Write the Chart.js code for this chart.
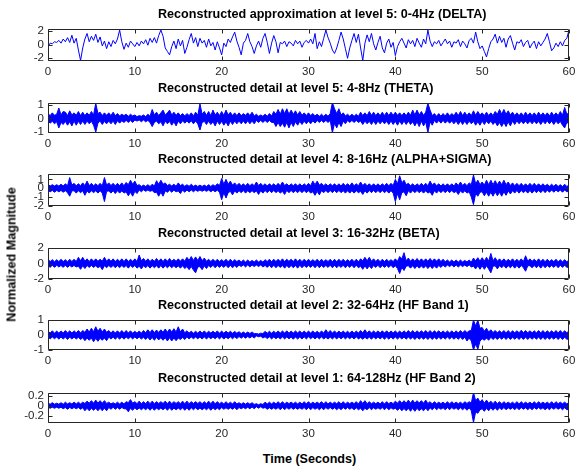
<!DOCTYPE html>
<html>
<head>
<meta charset="utf-8">
<script src="https://cdn.jsdelivr.net/npm/chart.js@4.4.1/dist/chart.umd.min.js"></script>
<style>
  body { margin: 0; background: #fff; width: 576px; height: 466px; position: relative; overflow: hidden;
         font-family: "Liberation Sans", Arial, sans-serif; }
  .panel { position: absolute; left: 0; width: 576px; }
  .lab { position: absolute; font-weight: bold; font-size: 12.6px; line-height: 15px; color: #000; white-space: nowrap; }
</style>
</head>
<body>
<script>
// Wavelet reconstruction of a 60 s EEG record, one panel per band.
// Everything is sampled every 0.25 s (241 values over 0..60 s).
// The delta panel is a plain trace; the detail bands are far denser than a pixel,
// so they are kept as the upper / lower excursion of the signal in each slot.

const titles = [
  "Reconstructed approximation at level 5: 0-4Hz (DELTA)",
  "Reconstructed detail at level 5: 4-8Hz (THETA)",
  "Reconstructed detail at level 4: 8-16Hz (ALPHA+SIGMA)",
  "Reconstructed detail at level 3: 16-32Hz (BETA)",
  "Reconstructed detail at level 2: 32-64Hz (HF Band 1)",
  "Reconstructed detail at level 1: 64-128Hz (HF Band 2)"
];

const xTicks = [0, 10, 20, 30, 40, 50, 60];
const yTicks = [[-2, 0, 2], [-1, 0, 1], [-2, -1, 0, 1], [-2, 0, 2], [-1, 0, 1], [-0.2, 0, 0.2]];
const yLimits = [[-2.39, 2.25], [-1.07, 1.12], [-2, 1.6], [-2, 2], [-1, 1], [-0.34, 0.25]];

const delta = [
  -.3,.2,.1,.4, .3,.6,.2,.8, .4,1.0,.3,1.35, .2,.9,-.8,-2.3, -.5,.8,1.6,.4,
  1.2,.6,1.5,.3, 1.1,-.2,.5,-.6, .4,-.3,.6,.1, .8,2.1,.4,-.7, .2,-.4,.5,.1,
  -.3,.3,-.2,.5, .1,.7,-.1,.9, .3,1.0,.2,1.3, 2.1,1.2,-.5,-1.0, -1.5,-.3,.5,-.6,
  .8,-.2,.6,-1.3, -.4,.7,1.6,.2, 1.0,-.3,.9,.2, .6,-.4,.8,-.2, .3,-.8,.4,-.5,
  -1.5,.2,-.3,.8, .3,1.1,1.8,.5, -.4,-1.5,.2,.6, 1.6,.4,-.3,-1.3, -.2,.5,-.4,.9,
  1.6,.3,-1.3,.2, 1.3,.4,-1.2,.3, .1,.5,-.3,.4, .2,-.2,.6,.1, .5,-.4,.3,.6,
  .2,.8,.1,1.6, -.6,.4,-.3,.9, 2.1,1.0,.2,-.8, -1.3,-.5,.6,1.8, .8,-.6,-2.0,-.5,
  .6,1.6,.3,1.5, -.5,-2.3,.2,1.4, .4,1.6,.1,-.8, .3,1.2,-.5,-1.2, .2,.8,-.4,.3,
  -1.6,-.3,.4,.9, .2,-.5,.7,.1, .6,-.3,.9,.2, -.4,.8,.1,2.1, .5,-.3,.4,.1,
  .6,-.2,.3,.8, .1,.5,-.4,.4, .2,.7,-.3,.5, .1,-.5,.6,.9, .2,1.8,.4,-.6,
  -.2,-1.0,-1.8,-.6, .4,.8,1.5,.2, 1.2,.3,.9,-.4, .8,1.3,.2,-.8, .4,.2,.7,-.3,
  .3,.6,-.5,.1, .5,-.6,.4,-.2, .3,.8,1.6,.4, -.9,-.5,.2,-.3, .4,-.2,.6,.9,
  2.1
];

const thetaHi = [
  .35,.2,.4,.22, .3,.75,.25,.5, .45,.2,.55,.25, .4,.22,.5,.2, .45,.2,.4,.22,
  .5,.25,1.1,.35, .45,.2,.4,.22, .4,.2,.45,.2, .35,.18,.3,.2, .3,.15,.3,.18,
  .25,.12,.2,.15, .25,.12,.3,.15, .65,.25,.45,.2, .4,.6,.25,.4, .6,.25,.45,.22,
  .4,.2,.35,.18, .35,.2,.4,.18, .45,.22,1.05,.3, .5,.22,.5,.2, .6,.25,.45,.2,
  .5,.22,.6,.25, .45,.2,.4,.2, .4,.2,.35,.22, .4,.2,.45,.18, .3,.15,.25,.15,
  .3,.15,.35,.18, .5,.3,.65,.3, .7,.35,.7,.3, .6,.3,.55,.25, .5,.22,.4,.2,
  .4,.2,.35,.18, .3,.15,.3,.15, .3,.15,.35,1.15, .7,.35,.7,.25, .4,.18,.3,.15,
  .3,.15,.3,.15, .45,.2,.4,.2, .5,.22,.45,.2, .4,.2,.45,.2, .45,.2,.45,.22,
  .45,.22,.4,.2, .4,.2,.45,.22, .6,.25,.6,.25, .5,.22,.45,1.1, .6,.2,.35,.15,
  .35,.15,.35,.18, .4,.18,.35,.2, .45,.2,.5,.2, .45,.2,.4,.2, .55,.22,.5,.25,
  .4,.2,.45,.2, .4,.2,.5,.3, .65,.3,.65,.3, .55,.25,.45,.2, .4,.2,.4,.18,
  .45,.2,.4,.2, .4,.18,.45,.2, .4,.2,.4,.18, .45,.2,.4,.2, .5,.22,.8,.3,
  .4
];
const thetaLo = [
  -.2,-.35,-.22,-.4, -.25,-.7,-.3,-.45, -.22,-.5,-.25,-.55, -.2,-.5,-.22,-.45, -.2,-.45,-.2,-.4,
  -.22,-.5,-1.0,-.35, -.2,-.45,-.22,-.4, -.2,-.4,-.2,-.45, -.18,-.35,-.18,-.3, -.15,-.3,-.15,-.3,
  -.12,-.2,-.12,-.25, -.12,-.25,-.15,-.3, -.6,-.3,-.2,-.4, -.25,-.55,-.2,-.4, -.22,-.5,-.25,-.55,
  -.2,-.4,-.18,-.35, -.2,-.35,-.18,-.4, -.2,-.4,-.85,-.3, -.22,-.45,-.2,-.45, -.25,-.55,-.2,-.45,
  -.22,-.5,-.25,-.55, -.2,-.45,-.2,-.4, -.2,-.4,-.2,-.4, -.18,-.4,-.2,-.4, -.15,-.3,-.15,-.3,
  -.15,-.3,-.15,-.3, -.3,-.6,-.3,-.6, -.35,-.65,-.3,-.7, -.3,-.6,-.25,-.5, -.22,-.45,-.2,-.4,
  -.2,-.4,-.18,-.35, -.15,-.3,-.15,-.3, -.15,-.3,-.15,-1.05, -.35,-.7,-.3,-.6, -.2,-.4,-.15,-.3,
  -.15,-.3,-.15,-.3, -.2,-.45,-.2,-.4, -.22,-.45,-.2,-.45, -.2,-.4,-.2,-.4, -.22,-.45,-.2,-.45,
  -.22,-.5,-.2,-.45, -.2,-.45,-.2,-.45, -.25,-.55,-.25,-.6, -.2,-.55,-.25,-1.05, -.25,-.5,-.15,-.35,
  -.15,-.35,-.15,-.35, -.18,-.35,-.2,-.4, -.2,-.45,-.2,-.45, -.2,-.45,-.2,-.4, -.22,-.5,-.25,-.5,
  -.2,-.45,-.2,-.4, -.2,-.45,-.25,-.55, -.3,-.6,-.3,-.6, -.25,-.55,-.2,-.45, -.18,-.4,-.2,-.4,
  -.2,-.4,-.2,-.4, -.2,-.4,-.22,-.45, -.2,-.4,-.18,-.4, -.2,-.45,-.2,-.4, -.22,-.5,-.7,-.3,
  -.4
];

const alphaHi = [
  .45,.25,.4,.25, .4,.25,.45,.25, .5,.28,1.2,.35, .55,.28,.5,.28, .6,.3,.8,.3,
  .55,.28,.5,.28, .55,.28,1.2,.35, .6,.3,.55,.28, .55,.3,.6,.28, .65,.4,.9,.45,
  .8,.3,.4,.2, .35,.2,.4,.2, .45,.25,.85,.45, .9,.45,.6,.3, .45,.25,.45,.22,
  .6,.3,.45,.22, .4,.22,.45,.22, .35,.2,.35,.2, .35,.2,.4,.2, .4,.22,.5,.3,
  1.1,.45,1.0,.45, .8,.35,.6,.3, .55,.28,.5,.25, .55,.28,.5,.28, .7,.3,.55,.28,
  .5,.25,.5,.28, .5,.25,.55,.28, .7,.3,.5,.25, .5,.28,.5,.25, .5,.25,.5,.28,
  .55,.28,.8,.4, .8,.35,.55,.28, .5,.25,.5,.28, .5,.25,.5,.25, .55,.28,.5,.28,
  .6,.28,.5,.28, .7,.3,.55,.28, .5,.25,.5,.25, .5,.25,.5,.28, .55,.28,.55,.3,
  1.0,.5,1.4,.6, .9,.4,.55,.28, .5,.25,.5,.28, .55,.28,.55,.28, .8,.35,.6,.28,
  .5,.25,.5,.25, .5,.25,.5,.25, .6,.3,.7,.3, .55,.28,.6,.4, 1.5,.5,.9,.4,
  .7,.35,.9,.4, .9,.4,.85,.4, .8,.4,.9,.4, .7,.3,.6,.28, .55,.28,.55,.25,
  .5,.25,.55,.28, .55,.25,.5,.25, .5,.25,.45,.22, .45,.22,.45,.2, .4,.2,.45,.2,
  .35
];
const alphaLo = [
  -.25,-.4,-.25,-.45, -.25,-.4,-.25,-.45, -.28,-.5,-.9,-.3, -.28,-.55,-.28,-.5, -.3,-.8,-.3,-.55,
  -.28,-.5,-.28,-.55, -.28,-.55,-1.5,-.35, -.3,-.55,-.28,-.6, -.28,-.55,-.3,-.55, -.4,-.85,-.45,-.9,
  -.35,-.6,-.2,-.4, -.18,-.35,-.2,-.35, -.25,-.5,-.45,-.9, -.45,-.9,-.3,-.45, -.22,-.45,-.22,-.4,
  -.3,-.6,-.22,-.45, -.2,-.4,-.2,-.4, -.2,-.35,-.2,-.35, -.2,-.35,-.2,-.4, -.22,-.4,-.22,-.45,
  -1.3,-.5,-1.1,-.5, -.35,-.75,-.3,-.55, -.28,-.5,-.25,-.55, -.28,-.5,-.28,-.5, -.3,-.7,-.28,-.55,
  -.25,-.5,-.25,-.5, -.25,-.5,-.28,-.55, -.35,-.7,-.25,-.5, -.25,-.5,-.28,-.5, -.25,-.5,-.25,-.5,
  -.28,-.55,-.4,-.8, -.35,-.75,-.28,-.5, -.25,-.5,-.25,-.5, -.25,-.5,-.25,-.5, -.28,-.55,-.28,-.55,
  -.28,-.55,-.28,-.5, -.35,-.7,-.28,-.55, -.25,-.5,-.25,-.5, -.25,-.5,-.25,-.5, -.28,-.55,-.28,-.55,
  -1.5,-.6,-1.3,-.5, -.4,-.85,-.28,-.55, -.25,-.5,-.25,-.5, -.28,-.55,-.28,-.55, -.4,-.8,-.28,-.55,
  -.25,-.5,-.25,-.5, -.25,-.5,-.25,-.5, -.35,-.7,-.28,-.55, -.28,-.55,-.4,-1.0, -1.85,-.6,-.9,-.45,
  -.4,-.85,-.45,-.9, -.45,-.9,-.4,-.85, -.45,-.9,-.4,-.8, -.3,-.65,-.28,-.55, -.25,-.55,-.25,-.5,
  -.28,-.55,-.25,-.55, -.25,-.5,-.25,-.5, -.22,-.5,-.22,-.45, -.2,-.45,-.2,-.4, -.2,-.45,-.2,-.4,
  -.35
];

const betaHi = [
  .55,.25,.5,.22, .5,.25,.55,.25, .5,.22,.55,.25, .55,.25,.8,.35, .8,.3,.6,.25,
  .6,.28,.6,.28, .55,.3,.8,.3, .6,.28,.6,.25, .55,.28,.6,.25, .6,.25,.55,.28,
  .6,.25,1.1,.35, .65,.28,.6,.25, .55,.28,.65,.28, .6,.25,.6,.28, .65,.28,.55,.28,
  .6,.3,.6,.3, .8,.4,.9,.4, .85,.4,.9,.35, .7,.3,.55,.25, .55,.25,.55,.25,
  .5,.25,.55,.22, .55,.22,.5,.25, .45,.2,.45,.18, .45,.18,.4,.2, .45,.2,.4,.18,
  .5,.25,.55,.22, .55,.25,.55,.25, .6,.25,.55,.28, .55,.25,.6,.25, .55,.22,.55,.25,
  .55,.25,.5,.25, .55,.22,.55,.25, .5,.25,.55,.22, .55,.22,.55,.25, .55,.22,.5,.25,
  .55,.22,.55,.22, .6,.35,.8,.35, .8,.3,.6,.25, .55,.22,.55,.25, .55,.25,.5,.25,
  .6,.28,.9,.6, 1.4,.35,.7,.28, .6,.28,.65,.28, .6,.3,.6,.28, .65,.28,.6,.3,
  .6,.25,.55,.22, .45,.2,.45,.18, .45,.18,.45,.2, .4,.2,.45,.18, .7,.35,.75,.3,
  .75,.3,.8,.3, 1.3,.35,.75,.3, .6,.28,.6,.25, .55,.28,.6,.25, .55,.25,.6,.25,
  1.0,.3,.6,.28, .55,.25,.6,.25, .55,.22,.55,.25, .5,.25,.55,.22, .5,.22,.5,.22,
  .45
];
const betaLo = [
  -.22,-.5,-.22,-.5, -.22,-.45,-.25,-.5, -.22,-.5,-.25,-.45, -.25,-.45,-.35,-.75, -.3,-.65,-.25,-.5,
  -.25,-.5,-.28,-.55, -.35,-.8,-.28,-.55, -.25,-.5,-.25,-.55, -.28,-.55,-.25,-.5, -.25,-.6,-.25,-.5,
  -.25,-.6,-.35,-.7, -.28,-.55,-.25,-.6, -.28,-.55,-.28,-.6, -.25,-.6,-.28,-.55, -.28,-.55,-.28,-.55,
  -.3,-.6,-.28,-.65, -.4,-.8,-.4,-.85, -1.2,-.45,-.4,-.8, -.3,-.65,-.25,-.5, -.22,-.55,-.25,-.5,
  -.25,-.5,-.22,-.55, -.22,-.55,-.25,-.5, -.2,-.4,-.18,-.45, -.18,-.45,-.2,-.4, -.2,-.4,-.18,-.45,
  -.25,-.5,-.22,-.55, -.22,-.55,-.25,-.5, -.25,-.6,-.25,-.55, -.25,-.55,-.25,-.6, -.22,-.55,-.25,-.5,
  -.25,-.5,-.22,-.55, -.22,-.55,-.25,-.5, -.25,-.5,-.22,-.55, -.22,-.55,-.25,-.5, -.22,-.55,-.25,-.5,
  -.22,-.55,-.22,-.55, -.35,-.75,-.3,-.7, -.3,-.65,-.25,-.5, -.22,-.55,-.25,-.5, -.25,-.5,-.22,-.55,
  -.28,-.65,-1.3,-.5, -.9,-.35,-.28,-.6, -.28,-.65,-.28,-.6, -.3,-.6,-.28,-.65, -.28,-.65,-.3,-.6,
  -.25,-.5,-.22,-.45, -.2,-.4,-.18,-.45, -.18,-.45,-.2,-.4, -.2,-.4,-.18,-.45, -.35,-.7,-.3,-.75,
  -.3,-.75,-.3,-.7, -1.2,-.35,-.3,-.7, -.28,-.55,-.25,-.6, -.28,-.55,-.25,-.6, -.25,-.6,-.25,-.55,
  -1.0,-.3,-.28,-.55, -.25,-.55,-.25,-.6, -.22,-.55,-.25,-.5, -.25,-.5,-.22,-.55, -.22,-.5,-.22,-.5,
  -.45
];

const hf1Hi = [
  .27,.13,.28,.12, .26,.13,.27,.14, .3,.14,.28,.13, .28,.14,.3,.14, .3,.18,.4,.2,
  .45,.22,.55,.25, .45,.2,.4,.18, .3,.14,.28,.13, .28,.13,.3,.14, .3,.13,.28,.12,
  .25,.12,.27,.12, .3,.15,.35,.16, .35,.16,.33,.17, .35,.18,.4,.18, .4,.2,.42,.2,
  .55,.2,.4,.15, .28,.13,.25,.12, .25,.12,.27,.13, .27,.12,.25,.13, .25,.13,.27,.12,
  .26,.12,.25,.13, .25,.12,.24,.12, .22,.1,.2,.1, .2,.1,.2,.09, .1,.06,.12,.1,
  .24,.12,.25,.12, .25,.12,.27,.13, .27,.13,.28,.12, .26,.13,.27,.14, .27,.12,.26,.13,
  .26,.13,.27,.12, .25,.12,.27,.13, .35,.15,.3,.13, .27,.12,.26,.13, .26,.13,.25,.12,
  .27,.12,.26,.13, .3,.15,.35,.14, .28,.13,.27,.14, .27,.14,.28,.13, .28,.13,.27,.14,
  .27,.13,.26,.13, .28,.14,.3,.14, .3,.14,.28,.15, .28,.15,.3,.14, .3,.14,.28,.15,
  .28,.14,.27,.14, .27,.13,.28,.13, .28,.13,.3,.14, .3,.16,.28,.3, 1.0,.6,1.0,.45,
  .5,.25,.45,.2, .35,.16,.3,.15, .28,.15,.3,.14, .3,.14,.28,.15, .28,.15,.32,.15,
  .3,.15,.28,.15, .28,.14,.3,.14, .3,.14,.28,.15, .28,.15,.3,.14, .3,.14,.28,.15,
  .28
];
const hf1Lo = [
  -.12,-.26,-.13,-.25, -.13,-.28,-.13,-.27, -.14,-.3,-.14,-.27, -.14,-.27,-.15,-.3, -.18,-.38,-.2,-.35,
  -.2,-.45,-.22,-.42, -.22,-.35,-.2,-.38, -.14,-.27,-.14,-.28, -.14,-.28,-.13,-.28, -.13,-.25,-.13,-.26,
  -.13,-.25,-.13,-.27, -.15,-.3,-.15,-.33, -.16,-.35,-.15,-.33, -.18,-.35,-.18,-.4, -.19,-.4,-.2,-.38,
  -.2,-.3,-.16,-.3, -.12,-.26,-.13,-.25, -.13,-.25,-.13,-.27, -.12,-.27,-.13,-.25, -.13,-.25,-.12,-.26,
  -.12,-.27,-.13,-.25, -.12,-.25,-.12,-.24, -.1,-.21,-.1,-.21, -.1,-.2,-.09,-.2, -.06,-.12,-.08,-.2,
  -.12,-.24,-.12,-.26, -.13,-.25,-.13,-.27, -.12,-.26,-.13,-.25, -.14,-.28,-.13,-.27, -.13,-.27,-.12,-.26,
  -.12,-.25,-.13,-.26, -.13,-.26,-.12,-.27, -.15,-.27,-.14,-.26, -.13,-.27,-.12,-.26, -.12,-.26,-.13,-.25,
  -.13,-.27,-.12,-.26, -.17,-.28,-.15,-.27, -.14,-.28,-.13,-.26, -.13,-.26,-.14,-.28, -.14,-.28,-.13,-.27,
  -.13,-.27,-.14,-.26, -.14,-.28,-.14,-.27, -.15,-.3,-.14,-.28, -.15,-.28,-.15,-.3, -.14,-.3,-.15,-.28,
  -.14,-.28,-.14,-.27, -.13,-.27,-.14,-.28, -.15,-.28,-.14,-.3, -.14,-.4,-.2,-.4, -1.0,-.6,-.95,-.4,
  -.25,-.35,-.2,-.35, -.15,-.3,-.16,-.3, -.15,-.28,-.14,-.3, -.14,-.3,-.15,-.28, -.15,-.3,-.14,-.3,
  -.14,-.3,-.15,-.28, -.15,-.28,-.14,-.3, -.14,-.3,-.15,-.28, -.15,-.28,-.14,-.3, -.14,-.3,-.15,-.28,
  -.28
];

const hf2Hi = [
  .05,.03,.06,.03, .05,.03,.06,.03, .07,.035,.06,.035, .07,.035,.07,.035, .07,.045,.09,.05,
  .1,.05,.11,.05, .1,.05,.1,.045, .07,.035,.06,.035, .07,.035,.07,.035, .08,.06,.12,.05,
  .08,.04,.09,.04, .08,.04,.09,.04, .09,.04,.08,.045, .08,.045,.09,.04, .09,.04,.08,.045,
  .08,.04,.09,.04, .09,.04,.08,.045, .08,.045,.08,.04, .08,.04,.09,.04, .09,.04,.08,.04,
  .07,.035,.08,.035, .07,.035,.08,.035, .06,.03,.06,.03, .06,.03,.06,.025, .04,.02,.04,.025,
  .07,.035,.07,.035, .07,.035,.08,.035, .08,.035,.07,.04, .07,.04,.07,.035, .07,.035,.08,.035,
  .08,.035,.07,.04, .07,.04,.08,.035, .08,.035,.07,.04, .07,.04,.08,.035, .08,.035,.07,.04,
  .07,.04,.08,.035, .1,.045,.1,.04, .08,.04,.07,.04, .07,.035,.08,.035, .08,.04,.07,.04,
  .09,.05,.1,.05, .1,.05,.11,.05, .11,.05,.1,.055, .1,.05,.11,.045, .08,.035,.08,.04,
  .07,.04,.07,.035, .08,.035,.08,.04, .07,.04,.07,.035, .08,.045,.08,.05, .26,.1,.15,.07,
  .12,.05,.11,.05, .09,.04,.09,.04, .08,.035,.08,.04, .07,.04,.07,.035, .08,.035,.08,.04,
  .07,.04,.07,.035, .08,.035,.08,.04, .07,.04,.07,.035, .08,.035,.08,.04, .07,.04,.07,.035,
  .07
];
const hf2Lo = [
  -.03,-.05,-.03,-.05, -.03,-.05,-.03,-.06, -.035,-.07,-.035,-.06, -.035,-.06,-.035,-.07, -.04,-.1,-.05,-.1,
  -.05,-.09,-.05,-.1, -.05,-.1,-.045,-.1, -.035,-.07,-.03,-.07, -.035,-.07,-.035,-.06, -.06,-.12,-.05,-.09,
  -.04,-.08,-.045,-.08, -.045,-.08,-.04,-.09, -.04,-.09,-.045,-.08, -.045,-.08,-.04,-.09, -.04,-.09,-.045,-.08,
  -.045,-.08,-.04,-.09, -.04,-.09,-.04,-.08, -.04,-.08,-.045,-.08, -.045,-.08,-.04,-.09, -.04,-.08,-.045,-.08,
  -.035,-.07,-.04,-.07, -.04,-.07,-.035,-.08, -.035,-.06,-.035,-.06, -.03,-.06,-.025,-.06, -.02,-.05,-.02,-.05,
  -.035,-.07,-.04,-.07, -.04,-.07,-.035,-.08, -.035,-.08,-.035,-.07, -.035,-.07,-.04,-.07, -.04,-.07,-.035,-.08,
  -.035,-.08,-.035,-.07, -.04,-.08,-.04,-.08, -.035,-.07,-.035,-.07, -.04,-.08,-.04,-.08, -.035,-.07,-.035,-.07,
  -.04,-.08,-.04,-.08, -.05,-.1,-.05,-.08, -.035,-.08,-.04,-.07, -.04,-.07,-.035,-.08, -.035,-.08,-.04,-.07,
  -.05,-.09,-.05,-.1, -.055,-.1,-.05,-.11, -.05,-.11,-.05,-.1, -.06,-.1,-.045,-.1, -.04,-.08,-.035,-.08,
  -.04,-.07,-.04,-.08, -.035,-.08,-.035,-.07, -.04,-.08,-.04,-.08, -.04,-.09,-.04,-.1, -.33,-.12,-.15,-.08,
  -.06,-.11,-.05,-.1, -.04,-.09,-.04,-.09, -.04,-.08,-.035,-.08, -.04,-.07,-.04,-.08, -.035,-.08,-.035,-.07,
  -.04,-.08,-.04,-.08, -.035,-.07,-.035,-.07, -.04,-.08,-.04,-.08, -.035,-.07,-.035,-.07, -.04,-.08,-.04,-.08,
  -.07
];

const STEP = 0.25;
const bands = [null, [thetaHi, thetaLo], [alphaHi, alphaLo], [betaHi, betaLo], [hf1Hi, hf1Lo], [hf2Hi, hf2Lo]];

// plot-area top / bottom of each panel, in page pixels
const boxes = [[29, 61], [103, 133], [174, 206], [248, 279], [320, 350], [393, 423]];
const PAD_TOP = 8, AXIS_H = 20, Y_AXIS_W = 48, RIGHT_GAP = 7;
const FONT = '"Liberation Sans", Arial, sans-serif';
const INK = '#262626';
const BLUE = '#0000ff';

function addLabel(text, left, top, extra) {
  const d = document.createElement('div');
  d.className = 'lab';
  d.textContent = text;
  d.style.left = left + 'px';
  d.style.top = top + 'px';
  if (extra) Object.assign(d.style, extra);
  document.body.appendChild(d);
}

const toPoints = vals => vals.map((v, k) => ({ x: k * STEP, y: v }));

function panelDatasets(i) {
  if (!bands[i]) {
    return [{ data: toPoints(delta), borderColor: BLUE, borderWidth: 1, pointRadius: 0, tension: 0, clip: 0, fill: false }];
  }
  const [hi, lo] = bands[i];
  return [
    { data: toPoints(hi), borderColor: BLUE, backgroundColor: BLUE, borderWidth: 1,
      pointRadius: 0, tension: 0, clip: 0, fill: '+1' },
    { data: toPoints(lo), borderColor: BLUE, borderWidth: 1,
      pointRadius: 0, tension: 0, clip: 0, fill: false }
  ];
}

// axes box + short inward tick marks, matlab style
const frame = {
  id: 'frame',
  afterDraw(chart) {
    const { ctx, chartArea: a, scales } = chart;
    const L = Math.round(a.left) + 0.5, R = Math.round(a.right) - 0.5;
    const T = Math.round(a.top) + 0.5, B = Math.round(a.bottom) - 0.5;
    ctx.save();
    ctx.strokeStyle = INK;
    ctx.lineWidth = 1;
    ctx.beginPath();
    ctx.rect(L, T, R - L, B - T);
    for (const v of xTicks) {
      const x = Math.round(scales.x.getPixelForValue(v)) + 0.5;
      ctx.moveTo(x, T); ctx.lineTo(x, T + 4);
      ctx.moveTo(x, B); ctx.lineTo(x, B - 4);
    }
    for (const t of scales.y.ticks) {
      const y = Math.round(scales.y.getPixelForValue(t.value)) + 0.5;
      ctx.moveTo(L, y); ctx.lineTo(L + 4, y);
      ctx.moveTo(R, y); ctx.lineTo(R - 4, y);
    }
    ctx.stroke();
    ctx.restore();
  }
};

boxes.forEach(([top, bottom], i) => {
  const wrap = document.createElement('div');
  wrap.className = 'panel';
  wrap.style.top = (top - PAD_TOP) + 'px';
  wrap.style.height = (bottom - top + PAD_TOP + AXIS_H) + 'px';
  const cv = document.createElement('canvas');
  wrap.appendChild(cv);
  document.body.appendChild(wrap);

  addLabel(titles[i], 158, top - 22);

  new Chart(cv, {
    type: 'line',
    data: { datasets: panelDatasets(i) },
    options: {
      animation: false,
      responsive: true,
      maintainAspectRatio: false,
      events: [],
      layout: { padding: { top: PAD_TOP, right: RIGHT_GAP, left: 0, bottom: 0 } },
      plugins: { legend: { display: false }, tooltip: { enabled: false }, title: { display: false } },
      scales: {
        x: {
          type: 'linear', min: 0, max: 60,
          border: { display: false },
          grid: { display: false, drawTicks: false },
          afterBuildTicks: s => { s.ticks = xTicks.map(v => ({ value: v })); },
          afterFit: s => { s.height = AXIS_H; s.paddingLeft = 0; s.paddingRight = 0; },
          ticks: { color: INK, font: { family: FONT, size: 11.5 }, padding: 4, maxRotation: 0, autoSkip: false }
        },
        y: {
          min: yLimits[i][0], max: yLimits[i][1],
          border: { display: false },
          grid: { display: false, drawTicks: false },
          afterBuildTicks: s => { s.ticks = yTicks[i].map(v => ({ value: v })); },
          afterFit: s => { s.width = Y_AXIS_W; s.paddingTop = 0; s.paddingBottom = 0; },
          ticks: { color: INK, font: { family: FONT, size: 11.5 }, padding: 4, autoSkip: false,
                   callback: v => String(v) }
        }
      }
    },
    plugins: [frame]
  });
});

addLabel('Time (Seconds)', 209.5, 452, { width: '200px', textAlign: 'center' });
addLabel('Normalized Magnitude', -88, 247, { width: '200px', textAlign: 'center', transform: 'rotate(-90deg)' });
</script>
</body>
</html>
